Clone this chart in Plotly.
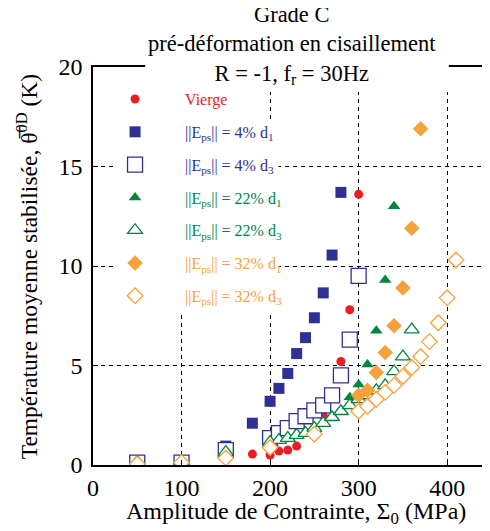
import plotly.graph_objects as go

# ---- data ----
vierge_x = [180, 200, 210, 220, 230, 260, 280, 290, 300]
vierge_y = [0.55, 0.5, 0.7, 0.75, 0.95, 2.5, 5.2, 7.8, 13.6]

e4_d1_x = [50, 100, 150, 180, 200, 210, 220, 230, 240, 250, 260, 270, 280]
e4_d1_y = [0.2, 0.15, 0.95, 2.1, 3.2, 3.85, 4.6, 5.6, 6.4, 7.4, 8.65, 10.55, 13.7]

e4_d3_x = [50, 100, 150, 200, 210, 220, 230, 240, 250, 260, 270, 280, 290, 300]
e4_d3_y = [0.12, 0.12, 0.75, 1.35, 1.6, 1.85, 2.2, 2.45, 2.75, 3.0, 3.5, 4.5, 6.3, 9.5]

e22_d1_x = [290, 300, 310, 320, 330, 340]
e22_d1_y = [3.4, 4.05, 5.05, 6.75, 9.3, 13.0]

e22_d3_x = [50, 100, 150, 200, 210, 220, 230, 240, 250, 260, 270, 280, 290, 300, 310, 320, 330, 340, 350, 360]
e22_d3_y = [0.15, 0.15, 0.65, 1.15, 1.25, 1.35, 1.5, 1.6, 1.85, 2.1, 2.4, 2.7, 3.0, 3.3, 3.5, 3.75, 4.0, 4.7, 5.45, 6.8]

e32_d1_x = [300, 310, 320, 330, 340, 350, 360, 370]
e32_d1_y = [3.5, 3.75, 4.65, 5.65, 7.0, 8.9, 11.9, 16.9]

e32_d3_x = [50, 100, 150, 200, 250, 300, 310, 320, 330, 340, 350, 360, 370, 380, 390, 400, 410]
e32_d3_y = [0.05, 0.12, 0.35, 0.88, 1.55, 2.7, 2.95, 3.3, 3.65, 4.0, 4.45, 4.9, 5.45, 6.2, 7.15, 8.4, 10.3]

x_ticks = [0, 100, 200, 300, 400]
y_ticks = [0, 5, 10, 15, 20]

RED = "#ed1c24"
BLUE = "#2e3192"
GREEN = "#00853f"
ORANGE = "#f6a13a"
FONT = "Liberation Serif"


def lab(txt, color):
    return f'<span style="color:{color}">{txt}</span>'


series = [
    (vierge_x, vierge_y, lab("Vierge", RED), dict(symbol="circle", size=9, color=RED, line=dict(width=0))),
    (e4_d1_x, e4_d1_y, lab("||E<sub>ps</sub>|| = 4% d<sub>1</sub>", BLUE),
     dict(symbol="square", size=11, color=BLUE, line=dict(width=0))),
    (e4_d3_x, e4_d3_y, lab("||E<sub>ps</sub>|| = 4% d<sub>3</sub>", BLUE),
     dict(symbol="square", size=15, color="white", line=dict(width=1.3, color=BLUE))),
    (e22_d1_x, e22_d1_y, lab("||E<sub>ps</sub>|| = 22% d<sub>1</sub>", GREEN),
     dict(symbol="triangle-up", size=11, color=GREEN, line=dict(width=0))),
    (e22_d3_x, e22_d3_y, lab("||E<sub>ps</sub>|| = 22% d<sub>3</sub>", GREEN),
     dict(symbol="triangle-up", size=13, color="white", line=dict(width=1.3, color=GREEN))),
    (e32_d1_x, e32_d1_y, lab("||E<sub>ps</sub>|| = 32% d<sub>1</sub>", ORANGE),
     dict(symbol="diamond", size=12, color=ORANGE, line=dict(width=0))),
    (e32_d3_x, e32_d3_y, lab("||E<sub>ps</sub>|| = 32% d<sub>3</sub>", ORANGE),
     dict(symbol="diamond", size=12, color="white", line=dict(width=1.3, color=ORANGE))),
]

fig = go.Figure()
for i, (xs, ys, name, mk) in enumerate(series):
    fig.add_trace(go.Scatter(x=xs, y=ys, mode="markers", name=name, marker=mk,
                             legendgroup=f"g{i}"))

axis_common = dict(
    showline=True, linecolor="black", linewidth=1.5,
    ticks="inside", ticklen=5, tickcolor="black", tickwidth=1.2,
    showgrid=True, gridcolor="black", gridwidth=1, griddash="4px,4px",
    zeroline=False, automargin=False,
    tickfont=dict(family=FONT, size=24, color="black"),
)

WHITE_PANEL = dict(type="rect", xref="paper", yref="paper", fillcolor="white",
                   line=dict(width=0), layer="above")

fig.update_layout(
    width=490, height=531,
    # page body adds an 8px offset; margins compensate for it
    margin=dict(l=85, r=7, t=59, b=74),
    paper_bgcolor="white", plot_bgcolor="white",
    font=dict(family=FONT, color="black"),
    showlegend=True,
    legend=dict(
        x=-0.02, y=0.962, xanchor="left", yanchor="top",
        bgcolor="rgba(0,0,0,0)", borderwidth=0,
        font=dict(family=FONT, size=16),
        itemwidth=90, tracegroupgap=9, traceorder="grouped",
    ),
    xaxis=dict(range=[0, 449.5], tickvals=x_ticks, mirror=True, **axis_common),
    yaxis=dict(range=[0, 20], tickvals=y_ticks, ticklabelstandoff=4, **axis_common),
    shapes=[
        # white panel behind the title (hides the frame top and grid there)
        dict(WHITE_PANEL, x0=0.131, x1=0.894, y0=0.937, y1=1.03),
        # white panels behind the legend, hiding the grid there
        dict(WHITE_PANEL, x0=0.055, x1=0.395, y0=0.86, y1=0.937),
        dict(WHITE_PANEL, x0=0.055, x1=0.466, y0=0.377, y1=0.867),
    ],
    annotations=[
        dict(text="Grade C<br>pré-déformation en cisaillement<br>R = -1, f<sub>r</sub> = 30Hz",
             xref="paper", yref="paper", x=0.5, y=1.055, xanchor="center", yanchor="middle",
             showarrow=False,
             font=dict(family=FONT, size=22.5, color="black")),
        dict(text="Amplitude de Contrainte, Σ<sub>0</sub> (MPa)",
             xref="paper", yref="paper", x=0.509, y=-0.12, xanchor="center", yanchor="middle",
             showarrow=False, font=dict(family=FONT, size=24, color="black")),
        dict(text="Température moyenne stabilisée, θ\u0305<sup>0D</sup> (K)",
             xref="paper", yref="paper", x=-0.165, y=0.4975, xanchor="center", yanchor="middle",
             textangle=-90, showarrow=False, font=dict(family=FONT, size=23.5, color="black")),
    ],
)

fig.write_html("out.html")
